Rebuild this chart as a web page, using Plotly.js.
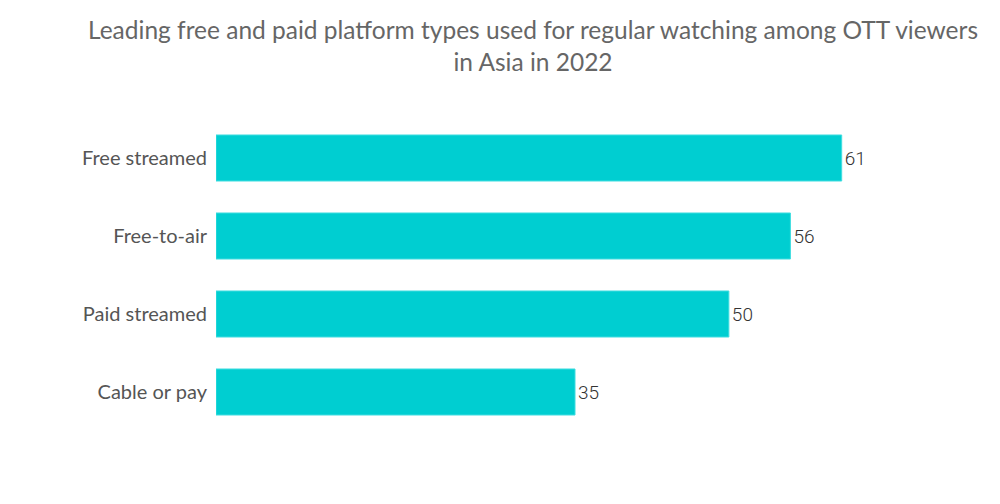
<!DOCTYPE html>
<html>
<head>
<meta charset="utf-8">
<script src="https://cdn.plot.ly/plotly-3.0.1.min.js"></script>
<style>html,body{margin:0;padding:0;background:#fff;}</style>
</head>
<body>
<div id="chart" style="width:1000px;height:504px;"></div>
<script>
var categories = ["Free streamed", "Free-to-air", "Paid streamed", "Cable or pay"];
var values = [61, 56, 50, 35];
var titleText = "Leading free and paid platform types used for regular watching among OTT viewers<br>in Asia in 2022";

var trace = {
  type: "bar",
  orientation: "h",
  y: categories,
  x: values,
  text: values.map(String),
  textposition: "outside",
  cliponaxis: false,
  textfont: {family: "Roboto, sans-serif", size: 19, color: "#333333", weight: 300},
  marker: {color: "#00CED1", line: {color: "#3FDDE0", width: 1}},
  hoverinfo: "none"
};

var layout = {
  width: 1000,
  height: 504,
  margin: {l: 216, r: 66, t: 119, b: 73, pad: 0},
  paper_bgcolor: "#ffffff",
  plot_bgcolor: "#ffffff",
  bargap: 0.41,
  showlegend: false,
  title: {
    text: titleText,
    x: 0.533,
    xanchor: "center",
    xref: "container",
    y: 0.922,
    yanchor: "top",
    yref: "container",
    font: {family: "Lato, sans-serif", size: 24.5, color: "#666666"}
  },
  xaxis: {
    range: [0, 70],
    showgrid: false,
    zeroline: false,
    showticklabels: false,
    showline: false,
    ticks: ""
  },
  yaxis: {
    autorange: "reversed",
    showgrid: false,
    zeroline: false,
    showline: false,
    ticks: "",
    ticklabelstandoff: 8,
    tickfont: {family: "Lato, sans-serif", size: 20, color: "#555555"}
  }
};

Plotly.newPlot("chart", [trace], layout, {displayModeBar: false, staticPlot: true});
</script>
</body>
</html>
